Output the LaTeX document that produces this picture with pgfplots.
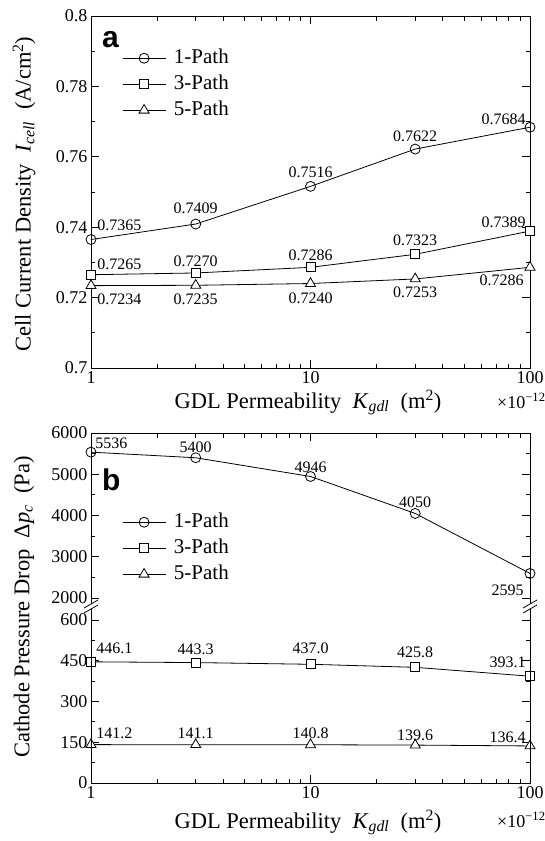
\documentclass[border=0pt]{standalone}
\usepackage{fontspec}
\setmainfont{Liberation Serif}
\newfontfamily\sansfont{Liberation Sans}
\usepackage{pgfplots}
\pgfplotsset{compat=1.18}
\pgfplotsset{
  lbl/.style={nodes near coords, point meta=explicit symbolic,
    visualization depends on={value \thisrow{anc}\as\anc},
    visualization depends on={value \thisrow{dx}\as\dx},
    visualization depends on={value \thisrow{dy}\as\dy},
    every node near coord/.append style={anchor=\anc, xshift=\dx pt, yshift=\dy pt, inner sep=0pt, font=\fontsize{16}{16}\selectfont, black}},
  pA/.style={black, line width=0.8pt, mark=o, mark size=5pt, mark options={fill=white, solid, line width=0.8pt}},
  pB/.style={black, line width=0.8pt, mark=square*, mark size=4.5pt, mark options={fill=white, solid, line width=0.8pt}},
  pC/.style={black, line width=0.8pt, mark=triangle*, mark size=5.8pt, mark options={fill=white, solid, line width=0.8pt}},
  common/.style={scale only axis, width=439pt, anchor=north west, clip=false,
    xmin=1, xmax=100, xtick={1,10,100},
    minor xtick={2,3,4,5,6,7,8,9,20,30,40,50,60,70,80,90},
    tick align=inside, major tick length=8pt, minor tick length=4.5pt,
    every tick/.style={black, line width=0.8pt},
    axis line style={line width=0.8pt},
    tick label style={font=\fontsize{18}{18}\selectfont},
    /pgf/number format/assume math mode=true,
    legend cell align=left,
    legend image code/.code={\draw[mark repeat=2,mark phase=2,##1] plot coordinates {(0pt,0pt) (21.5pt,0pt) (43pt,0pt)};},
    legend style={draw=none, fill=none, inner sep=0pt, anchor=north west, row sep=6pt, column sep=8pt,
      font=\fontsize{21}{21}\selectfont, nodes={inner sep=0pt, text height=15pt, text depth=5pt}},
  },
}
\begin{document}
\begin{tikzpicture}
\useasboundingbox (0,0) rectangle (545pt,-841pt);
% ---------------- panel a ----------------
\begin{axis}[xmode=log, common, at={(91pt,-16pt)}, height=352pt,
  xticklabels={1,10,100},
  ymin=0.7, ymax=0.8,
  ytick={0.7,0.72,0.74,0.76,0.78,0.8}, yticklabels={0.7,0.72,0.74,0.76,0.78,0.8},
  minor ytick={0.71,0.73,0.75,0.77,0.79},
  legend style={at={(0.0706,0.909)}}]
\addplot[pA, lbl] table[col sep=comma, x=x, y=y, meta=lab] {
x,y,lab,anc,dx,dy
1,0.7365,0.7365,base west,6,9.5
3,0.7409,0.7409,base,0,10.5
10,0.7516,0.7516,base,0,9
30,0.7622,0.7622,base,0,8
100,0.7684,0.7684,base east,-4,3
};
\addlegendentry{1-Path}
\addplot[pB, lbl] table[col sep=comma, x=x, y=y, meta=lab] {
x,y,lab,anc,dx,dy
1,0.7265,0.7265,base west,6,5.5
3,0.7270,0.7270,base,0,6
10,0.7286,0.7286,base,0,6.5
30,0.7323,0.7323,base,0,8.5
100,0.7389,0.7389,base east,-4,3.5
};
\addlegendentry{3-Path}
\addplot[pC, lbl] table[col sep=comma, x=x, y=y, meta=lab] {
x,y,lab,anc,dx,dy
1,0.7234,0.7234,base west,6,-18.5
3,0.7235,0.7235,base,0,-19.5
10,0.7240,0.7240,base,0,-19.5
30,0.7253,0.7253,base,0,-19
100,0.7286,0.7286,base east,-6,-18.5
};
\addlegendentry{5-Path}
\end{axis}
% ---------------- panel b, upper part ----------------
\begin{axis}[xmode=log, common, at={(91pt,-433pt)}, height=165pt,
  xticklabels={}, xtick pos=right,
  ymin=2000, ymax=6000,
  ytick={2000,3000,4000,5000,6000}, yticklabels={2000,3000,4000,5000,6000},
  minor ytick={2500,3500,4500,5500},
  axis line style={draw=none},
  legend style={at={(0.0706,0.521)}}]
\addplot[pA, lbl] table[col sep=comma, x=x, y=y, meta=lab] {
x,y,lab,anc,dx,dy
1,5536,5536,base west,4,3.5
3,5400,5400,base,0,5.5
10,4946,4946,base,0,4
30,4050,4050,base,0,6
100,2595,2595,base east,-6,-22
};
\addlegendentry{1-Path}
\addlegendimage{pB}
\addlegendentry{3-Path}
\addlegendimage{pC}
\addlegendentry{5-Path}
\end{axis}
% ---------------- panel b, lower part ----------------
\begin{axis}[xmode=log, common, at={(91pt,-620pt)}, height=163pt,
  xticklabels={1,10,100}, xtick pos=left,
  ymin=0, ymax=600,
  ytick={0,150,300,450,600}, yticklabels={0,150,300,450,600},
  minor ytick={75,225,375,525},
  axis line style={draw=none}]
\addplot[pB, lbl] table[col sep=comma, x=x, y=y, meta=lab] {
x,y,lab,anc,dx,dy
1,446.1,446.1,base west,5,8.5
3,443.3,443.3,base,0,8
10,437.0,437.0,base,0,10.5
30,425.8,425.8,base,0,9.5
100,393.1,393.1,base east,-4,8.5
};
\addplot[pC, lbl] table[col sep=comma, x=x, y=y, meta=lab] {
x,y,lab,anc,dx,dy
1,141.2,141.2,base west,5,6
3,141.1,141.1,base,0,6
10,140.8,140.8,base,0,6
30,139.6,139.6,base,0,4.5
100,136.4,136.4,base east,-4,3.5
};
\end{axis}
% axis lines of panel b with break marks
\begin{scope}[line width=0.8pt, black]
\draw (91pt,-604pt) -- (91pt,-433pt) -- (530pt,-433pt) -- (530pt,-604pt);
\draw (91pt,-609pt) -- (91pt,-783pt) -- (530pt,-783pt) -- (530pt,-609pt);
\draw (84pt,-608pt) -- (98pt,-600pt);
\draw (84pt,-613pt) -- (98pt,-605pt);
\draw (523pt,-608pt) -- (537pt,-600pt);
\draw (523pt,-613pt) -- (537pt,-605pt);
\end{scope}
% panel letters
\node[font=\sansfont\bfseries\fontsize{30}{30}\selectfont, anchor=base west, inner sep=0pt] at (102pt,-47pt) {a};
\node[font=\sansfont\bfseries\fontsize{30}{30}\selectfont, anchor=base west, inner sep=0pt] at (102pt,-490pt) {b};
% axis labels
\node[rotate=90, font=\fontsize{22.5}{22.5}\selectfont, inner sep=0pt] at (24pt,-194pt)
  {Cell Current Density\enspace\textit{I}\textsubscript{\textit{cell}}\enspace(A/cm\textsuperscript{2})};
\node[rotate=90, font=\fontsize{22.5}{22.5}\selectfont, inner sep=0pt] at (24pt,-607pt)
  {Cathode Pressure Drop\enspace Δ\textit{p}\textsubscript{\textit{c}}\enspace(Pa)};
\node[anchor=base, font=\fontsize{22.5}{22.5}\selectfont, inner sep=0pt] at (308pt,-408pt)
  {GDL Permeability\enspace\textit{K}\textsubscript{\textit{gdl}}\enspace(m\textsuperscript{2})};
\node[anchor=base, font=\fontsize{22.5}{22.5}\selectfont, inner sep=0pt] at (308pt,-828pt)
  {GDL Permeability\enspace\textit{K}\textsubscript{\textit{gdl}}\enspace(m\textsuperscript{2})};
\node[anchor=base west, font=\fontsize{18}{18}\selectfont, inner sep=0pt] at (497pt,-408pt) {×10\textsuperscript{−12}};
\node[anchor=base west, font=\fontsize{18}{18}\selectfont, inner sep=0pt] at (497pt,-827pt) {×10\textsuperscript{−12}};
\end{tikzpicture}
\end{document}
